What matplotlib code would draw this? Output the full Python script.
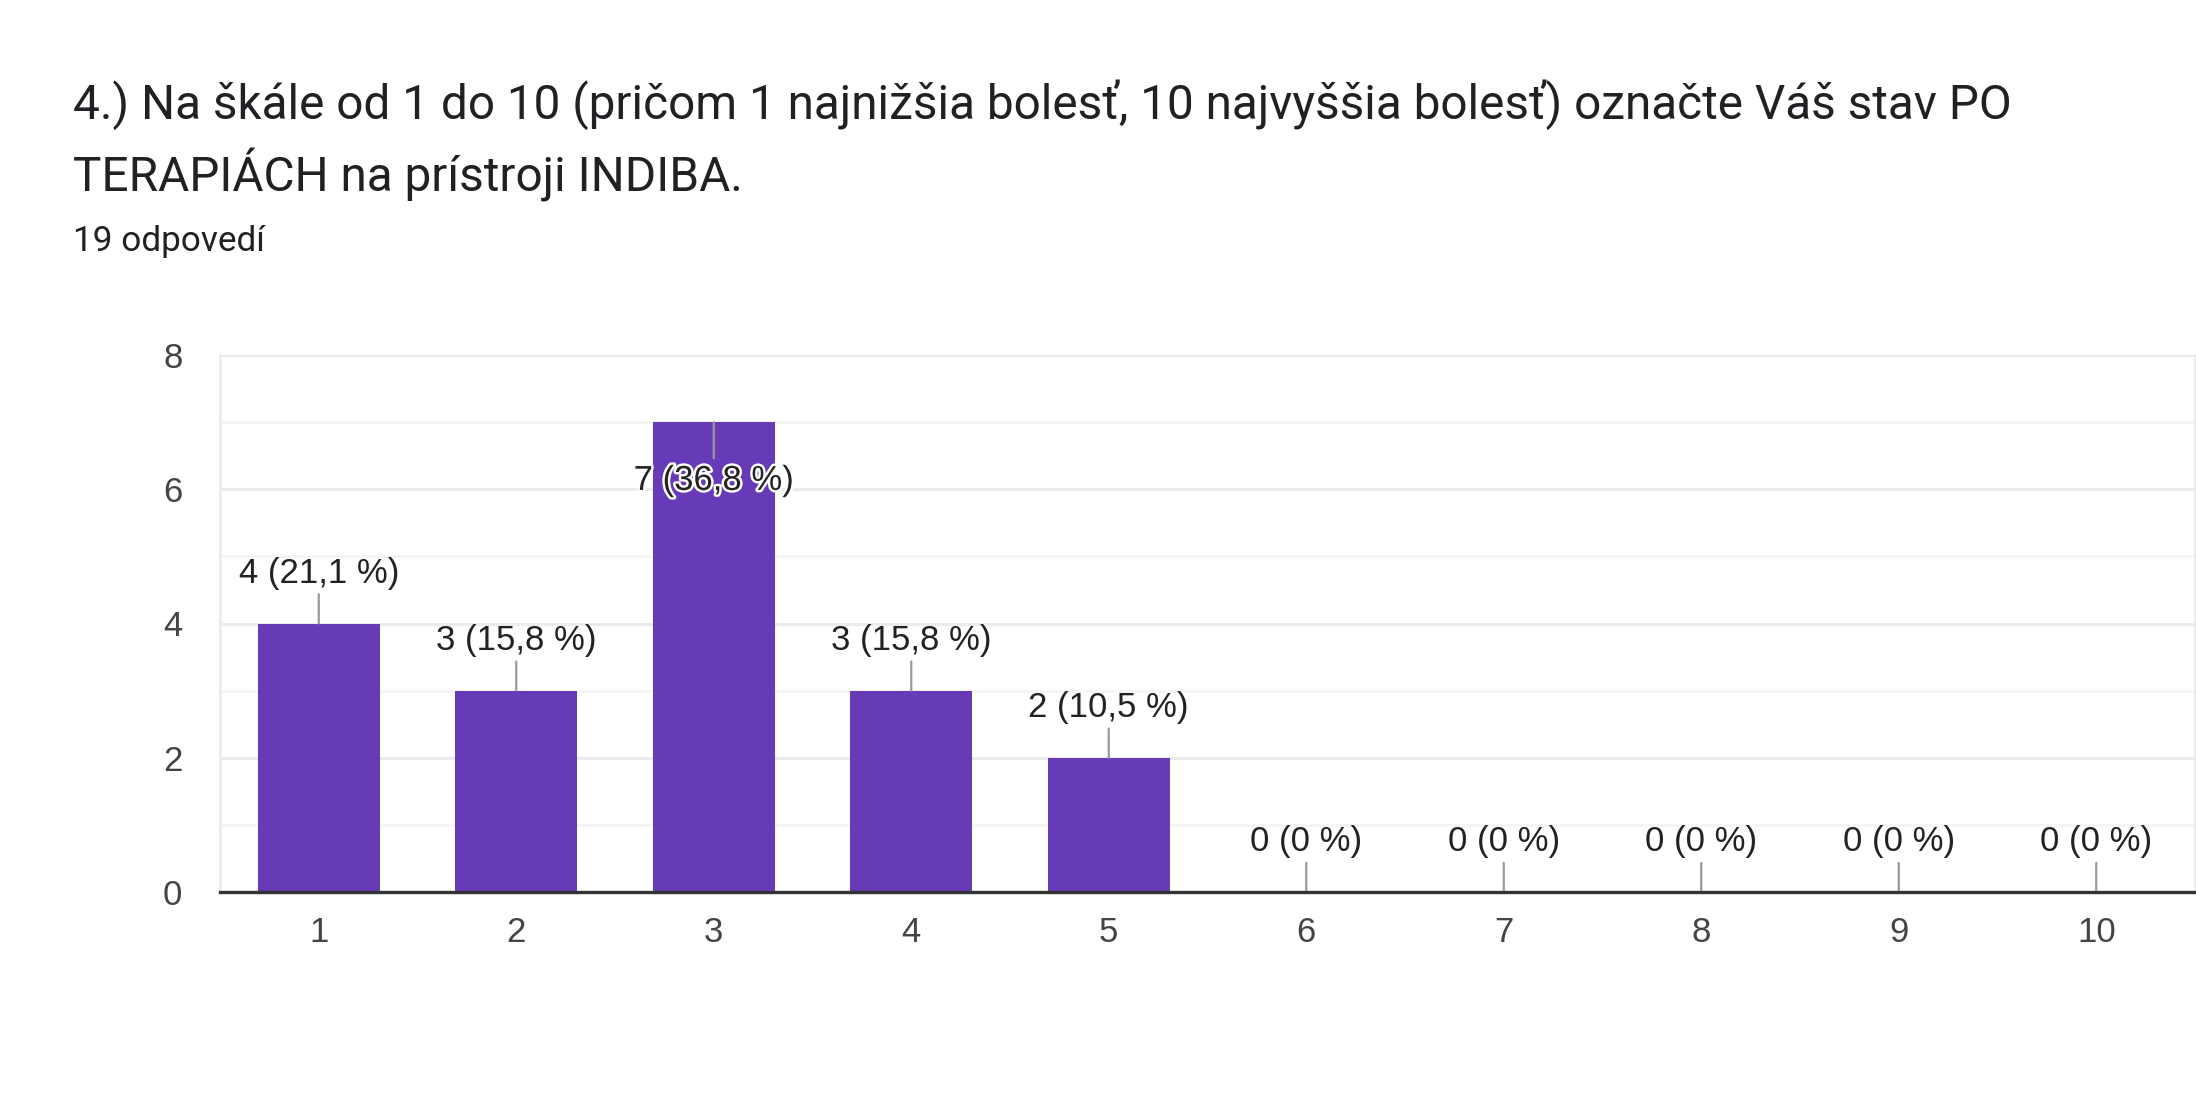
import matplotlib
matplotlib.use("Agg")
import matplotlib.pyplot as plt
import matplotlib.patheffects as pe
from matplotlib.ticker import MultipleLocator

plt.rcParams['font.family'] = ['Roboto', 'DejaVu Sans']
CHART_FONT = ['Liberation Sans', 'DejaVu Sans']

categories = ["1", "2", "3", "4", "5", "6", "7", "8", "9", "10"]
counts = [4, 3, 7, 3, 2, 0, 0, 0, 0, 0]
percents = ["21,1", "15,8", "36,8", "15,8", "10,5", "0", "0", "0", "0", "0"]
y_ticks = [0, 2, 4, 6, 8]
title_lines = ["4.) Na škále od 1 do 10 (pričom 1 najnižšia bolesť, 10 najvyššia bolesť) označte Váš stav PO",
               "TERAPIÁCH na prístroji INDIBA."]
subtitle = "19 odpovedí"

W, H = 2196, 1116
fig = plt.figure(figsize=(W / 100, H / 100), dpi=100)
fig.patch.set_facecolor("white")

fig.text(73 / W, 1 - 105 / H, title_lines[0], fontsize=34.4, color="#202124", va="center", ha="left")
fig.text(73 / W, 1 - 175 / H, title_lines[1], fontsize=34.4, color="#202124", va="center", ha="left")
fig.text(73 / W, 1 - 241 / H, subtitle, fontsize=25.3, color="#202124", va="center", ha="left")

left, right = 220 / W, 2195 / W
top, bottom = 1 - 355 / H, 1 - 892 / H
ax = fig.add_axes([left, bottom, right - left, top - bottom])

x = list(range(1, len(categories) + 1))
ax.bar(x, counts, width=0.62, color="#673ab7", zorder=3)

ax.set_xlim(0.5, 10.5)
ax.set_ylim(0, 8)
ax.set_yticks(y_ticks)
ax.yaxis.set_minor_locator(MultipleLocator(1))
ax.set_xticks(x)
ax.set_xticklabels(categories)

ax.grid(axis="y", which="major", color="#ebebeb", linewidth=2.2, zorder=0)
ax.grid(axis="y", which="minor", color="#f4f4f4", linewidth=2.0, zorder=0)
ax.tick_params(axis="both", which="both", length=0)
ax.tick_params(axis="y", pad=27, labelsize=25, labelcolor="#444444")
ax.tick_params(axis="x", pad=17.5, labelsize=25, labelcolor="#444444")
for lab in ax.get_xticklabels() + ax.get_yticklabels():
    lab.set_family(CHART_FONT)

ax.spines["top"].set_visible(False)
ax.spines["left"].set_color("#ebebeb")
ax.spines["left"].set_linewidth(2.0)
ax.spines["right"].set_color("#ebebeb")
ax.spines["right"].set_linewidth(2.0)
ax.spines["bottom"].set_color("#333333")
ax.spines["bottom"].set_linewidth(2.4)
ax.spines["bottom"].set_zorder(5)

for xi, c, p in zip(x, counts, percents):
    label = f"{c} ({p} %)"
    if c >= 7:
        ax.annotate("", xy=(xi, c), xytext=(0, -26), textcoords="offset points",
                    arrowprops=dict(arrowstyle="-", color="#999999", lw=1.6,
                                    shrinkA=0, shrinkB=0), zorder=4)
        ax.annotate(label, xy=(xi, c), xytext=(0, -42), textcoords="offset points",
                    ha="center", va="center", fontsize=25, color="#222222", zorder=6,
                    family=CHART_FONT,
                    path_effects=[pe.withStroke(linewidth=3.5, foreground="white")])
    else:
        ax.annotate("", xy=(xi, c), xytext=(0, 21), textcoords="offset points",
                    arrowprops=dict(arrowstyle="-", color="#999999", lw=1.6,
                                    shrinkA=0, shrinkB=0), zorder=4)
        ax.annotate(label, xy=(xi, c), xytext=(0, 36), textcoords="offset points",
                    ha="center", va="center", fontsize=25, color="#222222", zorder=6,
                    family=CHART_FONT)

fig.savefig("out.png", dpi=100, facecolor="white")
